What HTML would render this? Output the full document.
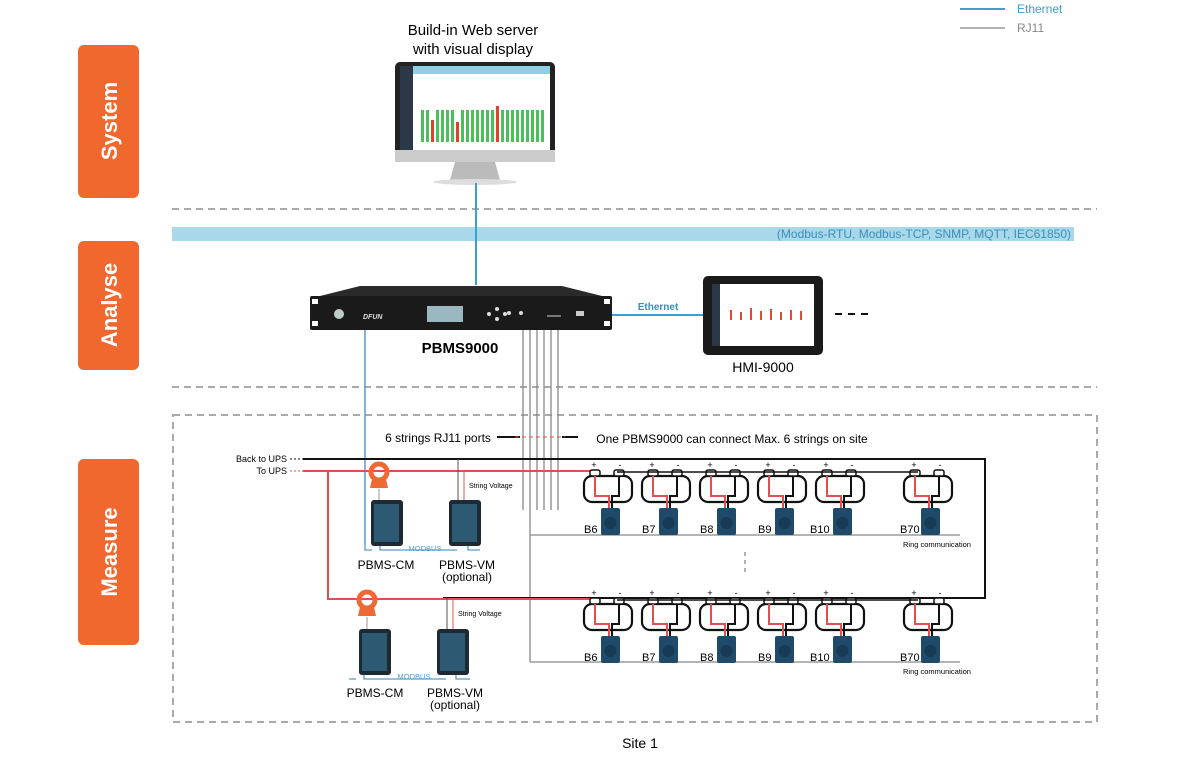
<!DOCTYPE html>
<html><head><meta charset="utf-8"><style>
body{margin:0;background:#fff}
svg{display:block;font-family:"Liberation Sans",sans-serif}
</style></head><body>
<svg width="1189" height="759" viewBox="0 0 1189 759" xmlns="http://www.w3.org/2000/svg">
<defs>
<g id="bat">
  <rect x="-23" y="4" width="48" height="26" rx="8" fill="none" stroke="#111" stroke-width="2.2"/>
  <rect x="-17" y="-2" width="10" height="6" rx="2" fill="#fff" stroke="#111" stroke-width="1.5"/>
  <rect x="7" y="-2" width="10" height="6" rx="2" fill="#fff" stroke="#111" stroke-width="1.5"/>
  <path d="M-12 4 V24 H2 V36" fill="none" stroke="#e05050" stroke-width="2"/>
  <path d="M12 4 V24 H5 V36" fill="none" stroke="#111" stroke-width="2"/>
  <text x="-13" y="-4" font-size="9" text-anchor="middle">+</text>
  <text x="13" y="-4" font-size="9" text-anchor="middle">-</text>
  <rect x="-6" y="36" width="19" height="27" rx="2" fill="#1f4a6a"/>
  <circle cx="3.5" cy="51" r="6" fill="#173a55"/>
</g>
<g id="mod">
  <rect x="0" y="0" width="32" height="46" rx="3" fill="#1d2a33"/>
  <rect x="3" y="4" width="25" height="38" fill="#2d5a72"/>
</g>
<g id="ring">
  <circle cx="0" cy="0" r="8" fill="none" stroke="#ee6a35" stroke-width="5"/>
  <path d="M-7 7 L7 7 L9 16 L-9 16 Z" fill="#ee6a35"/>
</g>
</defs>

<line x1="960" y1="9" x2="1005" y2="9" stroke="#3aa0cc" stroke-width="2"/>
<text x="1017" y="13" font-size="12" fill="#3aa0cc">Ethernet</text>
<line x1="960" y1="28" x2="1005" y2="28" stroke="#888" stroke-width="1.2"/>
<text x="1017" y="32" font-size="12" fill="#888">RJ11</text>

<rect x="78" y="45" width="61" height="153" rx="6" fill="#f0682e"/>
<text transform="translate(117,121) rotate(-90)" font-size="22" font-weight="bold" fill="#fff" text-anchor="middle">System</text>
<rect x="78" y="241" width="61" height="129" rx="6" fill="#f0682e"/>
<text transform="translate(117,305) rotate(-90)" font-size="22" font-weight="bold" fill="#fff" text-anchor="middle">Analyse</text>
<rect x="78" y="459" width="61" height="186" rx="6" fill="#f0682e"/>
<text transform="translate(117,552) rotate(-90)" font-size="22" font-weight="bold" fill="#fff" text-anchor="middle">Measure</text>

<line x1="172" y1="209" x2="1097" y2="209" stroke="#aaa" stroke-width="2" stroke-dasharray="7,5"/>
<line x1="172" y1="387" x2="1097" y2="387" stroke="#aaa" stroke-width="2" stroke-dasharray="7,5"/>
<rect x="172" y="227" width="902" height="14" fill="#a8d8ea"/>
<text x="1071" y="238" font-size="12" fill="#3a8fb8" text-anchor="end">(Modbus-RTU, Modbus-TCP, SNMP, MQTT, IEC61850)</text>

<text x="473" y="35" font-size="15" text-anchor="middle">Build-in Web server</text>
<text x="473" y="54" font-size="15" text-anchor="middle">with visual display</text>
<rect x="395" y="62" width="160" height="100" rx="5" fill="#222"/>
<rect x="400" y="66" width="150" height="90" fill="#fff"/>
<rect x="400" y="66" width="13" height="90" fill="#2b3848"/>
<rect x="413" y="66" width="137" height="8" fill="#8fd0e4"/>
<g fill="#4cbf5a">
<rect x="421" y="110" width="3" height="32"/><rect x="426" y="110" width="3" height="32"/><rect x="436" y="110" width="3" height="32"/><rect x="441" y="110" width="3" height="32"/><rect x="446" y="110" width="3" height="32"/><rect x="451" y="110" width="3" height="32"/><rect x="461" y="110" width="3" height="32"/><rect x="466" y="110" width="3" height="32"/><rect x="471" y="110" width="3" height="32"/><rect x="476" y="110" width="3" height="32"/><rect x="481" y="110" width="3" height="32"/><rect x="486" y="110" width="3" height="32"/><rect x="491" y="110" width="3" height="32"/><rect x="501" y="110" width="3" height="32"/><rect x="506" y="110" width="3" height="32"/><rect x="511" y="110" width="3" height="32"/><rect x="516" y="110" width="3" height="32"/><rect x="521" y="110" width="3" height="32"/><rect x="526" y="110" width="3" height="32"/><rect x="531" y="110" width="3" height="32"/><rect x="536" y="110" width="3" height="32"/><rect x="541" y="110" width="3" height="32"/>
</g>
<g fill="#e04030"><rect x="431" y="120" width="3" height="22"/><rect x="456" y="122" width="3" height="20"/><rect x="496" y="106" width="3" height="36"/></g>
<path d="M395 150 H555 V162 H395Z" fill="#ccc"/>
<path d="M455 162 L495 162 L500 180 L450 180 Z" fill="#bbb"/>
<ellipse cx="475" cy="182" rx="42" ry="3" fill="#ddd"/>
<line x1="476" y1="183" x2="476" y2="285" stroke="#3aa0cc" stroke-width="2"/>

<rect x="310" y="296" width="302" height="34" rx="2" fill="#1a1a1a"/>
<path d="M320 296 L360 286 L562 286 L602 296Z" fill="#2a2a2a"/>
<rect x="312" y="299" width="6" height="5" fill="#fff"/><rect x="604" y="299" width="6" height="5" fill="#fff"/>
<rect x="312" y="321" width="6" height="5" fill="#fff"/><rect x="604" y="321" width="6" height="5" fill="#fff"/>
<circle cx="339" cy="314" r="5" fill="#bcc"/>
<text x="363" y="319" font-size="7" font-style="italic" font-weight="bold" fill="#ddd">DFUN</text>
<rect x="427" y="306" width="36" height="16" fill="#9bb7c0"/>
<circle cx="489" cy="314" r="2" fill="#ddd"/><circle cx="497" cy="309" r="2" fill="#ddd"/><circle cx="497" cy="319" r="2" fill="#ddd"/><circle cx="505" cy="314" r="2" fill="#ddd"/>
<circle cx="509" cy="313" r="2" fill="#ddd"/><circle cx="521" cy="313" r="2" fill="#ddd"/>
<rect x="547" y="315" width="14" height="2" fill="#777"/><rect x="576" y="311" width="8" height="5" fill="#ccc"/>
<text x="460" y="353" font-size="15" font-weight="bold" text-anchor="middle">PBMS9000</text>

<line x1="612" y1="315" x2="703" y2="315" stroke="#3aa0cc" stroke-width="2"/>
<text x="658" y="310" font-size="10" font-weight="bold" fill="#3a8fb8" text-anchor="middle">Ethernet</text>
<rect x="703" y="276" width="120" height="79" rx="5" fill="#1a1a1a"/>
<rect x="712" y="284" width="102" height="62" fill="#fff"/>
<rect x="712" y="284" width="8" height="62" fill="#2b3848"/>
<g fill="#e04a3a"><rect x="730" y="310" width="2" height="10"/><rect x="740" y="312" width="2" height="8"/><rect x="750" y="308" width="2" height="12"/><rect x="760" y="311" width="2" height="9"/><rect x="770" y="309" width="2" height="11"/><rect x="780" y="312" width="2" height="8"/><rect x="790" y="310" width="2" height="10"/><rect x="800" y="311" width="2" height="9"/></g>
<text x="763" y="372" font-size="14" text-anchor="middle">HMI-9000</text>
<line x1="835" y1="314" x2="870" y2="314" stroke="#111" stroke-width="2" stroke-dasharray="7,6"/>

<rect x="173" y="415" width="924" height="307" fill="none" stroke="#aaa" stroke-width="2" stroke-dasharray="7,5"/>
<text x="640" y="748" font-size="14" text-anchor="middle">Site 1</text>

<g stroke="#888" stroke-width="1.3" fill="none">
<line x1="523" y1="330" x2="523" y2="510"/><line x1="530" y1="330" x2="530" y2="662"/><line x1="537" y1="330" x2="537" y2="510"/><line x1="544" y1="330" x2="544" y2="510"/><line x1="551" y1="330" x2="551" y2="510"/><line x1="558" y1="330" x2="558" y2="510"/>
<line x1="530" y1="535" x2="960" y2="535"/><line x1="530" y1="662" x2="960" y2="662"/>
</g>
<line x1="365" y1="330" x2="365" y2="545" stroke="#5a9cc8" stroke-width="1.5"/>
<line x1="497" y1="437" x2="520" y2="437" stroke="#111" stroke-width="2"/>
<line x1="562" y1="437" x2="578" y2="437" stroke="#111" stroke-width="2"/>
<line x1="515" y1="437" x2="565" y2="437" stroke="#e05050" stroke-width="1" stroke-dasharray="4,3"/>
<text x="438" y="442" font-size="12" text-anchor="middle">6 strings RJ11 ports</text>
<text x="732" y="443" font-size="12" text-anchor="middle">One PBMS9000 can connect Max. 6 strings on site</text>

<text x="287" y="462" font-size="9" text-anchor="end">Back to UPS</text>
<text x="287" y="474" font-size="9" text-anchor="end">To UPS</text>
<line x1="290" y1="459" x2="303" y2="459" stroke="#111" stroke-dasharray="2,2"/>
<line x1="290" y1="471" x2="303" y2="471" stroke="#e05050" stroke-dasharray="2,2"/>
<path d="M303 459 H985 V598 H443" fill="none" stroke="#111" stroke-width="2"/>
<path d="M303 471 H594" fill="none" stroke="#e05050" stroke-width="2"/>
<path d="M328 471 V599 H594" fill="none" stroke="#e05050" stroke-width="2"/>

<g font-size="11">
<use href="#bat" x="607" y="472"/><use href="#bat" x="665" y="472"/><use href="#bat" x="723" y="472"/><use href="#bat" x="781" y="472"/><use href="#bat" x="839" y="472"/><use href="#bat" x="927" y="472"/>
<text x="584" y="533">B6</text><text x="642" y="533">B7</text><text x="700" y="533">B8</text><text x="758" y="533">B9</text><text x="810" y="533">B10</text><text x="900" y="533">B70</text>
<text x="903" y="547" font-size="7.5">Ring communication</text>
<use href="#bat" x="607" y="600"/><use href="#bat" x="665" y="600"/><use href="#bat" x="723" y="600"/><use href="#bat" x="781" y="600"/><use href="#bat" x="839" y="600"/><use href="#bat" x="927" y="600"/>
<text x="584" y="661">B6</text><text x="642" y="661">B7</text><text x="700" y="661">B8</text><text x="758" y="661">B9</text><text x="810" y="661">B10</text><text x="900" y="661">B70</text>
<text x="903" y="674" font-size="7.5">Ring communication</text>
</g>
<line x1="617" y1="472" x2="918" y2="472" stroke="#111" stroke-width="1.5"/>
<line x1="617" y1="600" x2="918" y2="600" stroke="#111" stroke-width="1.5"/>
<line x1="745" y1="552" x2="745" y2="575" stroke="#999" stroke-width="1.5" stroke-dasharray="4,4"/>

<use href="#ring" x="379" y="472"/>
<line x1="379" y1="489" x2="379" y2="500" stroke="#ccc" stroke-width="2"/>
<use href="#mod" x="371" y="500"/><use href="#mod" x="449" y="500"/>
<line x1="458" y1="459" x2="458" y2="500" stroke="#555"/>
<line x1="464" y1="471" x2="464" y2="500" stroke="#e05050"/>
<text x="469" y="488" font-size="7">String Voltage</text>
<path d="M365 545 V550 H372 M380 546 V550 H457 M468 546 V550 H480" fill="none" stroke="#5a9cc8" stroke-width="1.3"/>
<text x="425" y="551" font-size="7.5" fill="#5a9cc8" text-anchor="middle">MODBUS</text>
<text x="386" y="569" font-size="12" text-anchor="middle">PBMS-CM</text>
<text x="467" y="569" font-size="12" text-anchor="middle">PBMS-VM</text>
<text x="467" y="581" font-size="12" text-anchor="middle">(optional)</text>

<use href="#ring" x="367" y="600"/>
<line x1="367" y1="617" x2="367" y2="630" stroke="#ccc" stroke-width="2"/>
<use href="#mod" x="359" y="629"/><use href="#mod" x="437" y="629"/>
<line x1="447" y1="598" x2="447" y2="629" stroke="#555"/>
<line x1="453" y1="599" x2="453" y2="629" stroke="#e05050"/>
<text x="458" y="616" font-size="7">String Voltage</text>
<path d="M349 679 H356 M364 675 V679 H446 M456 675 V679 H470" fill="none" stroke="#5a9cc8" stroke-width="1.3"/>
<text x="414" y="679" font-size="7.5" fill="#5a9cc8" text-anchor="middle">MODBUS</text>
<text x="375" y="697" font-size="12" text-anchor="middle">PBMS-CM</text>
<text x="455" y="697" font-size="12" text-anchor="middle">PBMS-VM</text>
<text x="455" y="709" font-size="12" text-anchor="middle">(optional)</text>
</svg>
</body></html>
